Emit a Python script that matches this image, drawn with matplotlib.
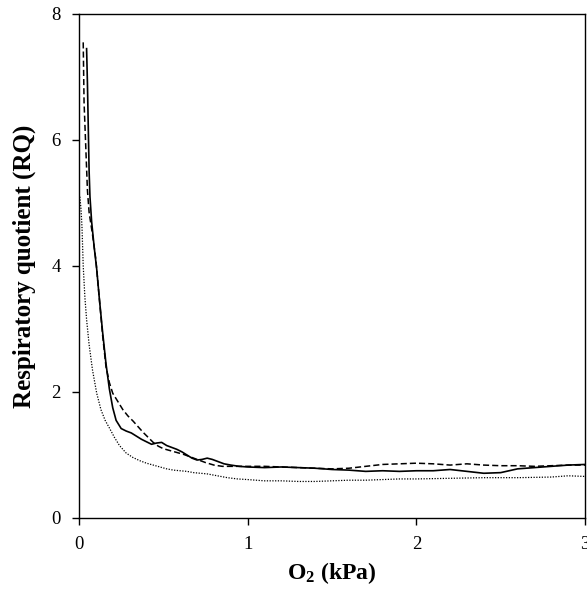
"""Respiratory quotient vs O2 partial pressure
"""

import matplotlib
matplotlib.use('Agg')
import matplotlib.pyplot as plt

plt.rcParams['font.family'] = ['Liberation Serif', 'DejaVu Serif']
plt.rcParams['mathtext.fontset'] = 'custom'
plt.rcParams['mathtext.rm'] = 'Liberation Serif'
plt.rcParams['mathtext.bf'] = 'Liberation Serif:bold'

# solid line
solid_x = [0.045, 0.05, 0.055, 0.06, 0.065, 0.075, 0.09, 0.105, 0.12, 0.14, 0.16, 0.18,
           0.20, 0.22, 0.25, 0.28, 0.31, 0.34, 0.37, 0.40, 0.43, 0.46, 0.49, 0.52, 0.55,
           0.58, 0.61, 0.64, 0.67, 0.70, 0.73, 0.76, 0.79, 0.82, 0.86, 0.90, 0.95, 1.0,
           1.1, 1.2, 1.3, 1.4, 1.5, 1.6, 1.7, 1.8, 1.9, 2.0, 2.1, 2.2, 2.3, 2.4, 2.5,
           2.6, 2.7, 2.8, 2.9, 3.0]
solid_y = [7.45, 6.9, 6.2, 5.5, 5.1, 4.7, 4.3, 3.95, 3.5, 2.95, 2.45, 2.05,
           1.75, 1.55, 1.42, 1.38, 1.35, 1.30, 1.25, 1.21, 1.17, 1.19, 1.20, 1.15, 1.12,
           1.09, 1.05, 1.00, 0.95, 0.92, 0.93, 0.95, 0.93, 0.90, 0.86, 0.84, 0.82, 0.81,
           0.80, 0.81, 0.80, 0.79, 0.77, 0.76, 0.74, 0.75, 0.74, 0.75, 0.75, 0.77, 0.74, 0.71, 0.72,
           0.78, 0.80, 0.82, 0.84, 0.85]

# dashed line
dash_x = [0.025, 0.03, 0.04, 0.05, 0.06, 0.08, 0.10, 0.12, 0.14, 0.16, 0.18, 0.20,
          0.23, 0.26, 0.29, 0.32, 0.35, 0.38, 0.41, 0.44, 0.47, 0.50, 0.54, 0.58, 0.62,
          0.66, 0.70, 0.75, 0.80, 0.85, 0.9, 1.0, 1.1, 1.2, 1.3, 1.4, 1.5, 1.6, 1.7,
          1.8, 1.9, 2.0, 2.1, 2.2, 2.3, 2.4, 2.5, 2.6, 2.7, 2.8, 2.9, 3.0]
dash_y = [7.55, 6.6, 5.9, 5.2, 4.85, 4.5, 4.1, 3.5, 2.9, 2.4, 2.15, 1.98,
          1.85, 1.72, 1.62, 1.54, 1.45, 1.36, 1.28, 1.20, 1.14, 1.10, 1.07, 1.04, 1.01,
          0.97, 0.93, 0.88, 0.84, 0.82, 0.82, 0.82, 0.82, 0.81, 0.80, 0.79, 0.78, 0.79, 0.82,
          0.85, 0.86, 0.87, 0.86, 0.84, 0.86, 0.84, 0.83, 0.83, 0.82, 0.83, 0.84, 0.84]

# dotted line
dot_x = [0.005, 0.012, 0.018, 0.025, 0.035, 0.045, 0.06, 0.08, 0.105, 0.13, 0.155, 0.18,
         0.21, 0.24, 0.28, 0.32, 0.36, 0.40, 0.44, 0.48, 0.52, 0.56, 0.60, 0.64, 0.68,
         0.72, 0.76, 0.80, 0.84, 0.88, 0.94, 1.0, 1.1, 1.2, 1.3, 1.4, 1.5, 1.6, 1.7,
         1.8, 1.9, 2.0, 2.2, 2.4, 2.6, 2.8, 2.9, 3.0]
dot_y = [5.1, 4.9, 4.6, 4.0, 3.5, 3.15, 2.75, 2.35, 1.98, 1.72, 1.55, 1.43,
         1.28, 1.15, 1.03, 0.96, 0.91, 0.87, 0.84, 0.81, 0.78, 0.76, 0.75, 0.74, 0.72,
         0.71, 0.70, 0.68, 0.66, 0.64, 0.62, 0.61, 0.59, 0.59, 0.58, 0.58, 0.59, 0.60, 0.60,
         0.61, 0.62, 0.62, 0.63, 0.64, 0.64, 0.65, 0.67, 0.66]

x_ticks = [0, 1, 2, 3]
y_ticks = [0, 2, 4, 6, 8]

fig = plt.figure(figsize=(5.87, 5.9), dpi=100)
ax = fig.add_axes([79 / 587, 72 / 590, 506 / 587, 504 / 590])

ax.plot(solid_x, solid_y, color='black', lw=1.2, ls='-')
ax.plot(dash_x, dash_y, color='black', lw=1.1, ls=(0, (4, 2)))
ax.plot(dot_x, dot_y, color='black', lw=0.9, ls=(0, (1, 1.2)))

ax.set_xlim(0, 3)
ax.set_ylim(0, 8)
ax.set_xticks(x_ticks)
ax.set_yticks(y_ticks)
ax.tick_params(direction='out', length=5, width=1, labelsize=13.5, pad=8)
for sp in ax.spines.values():
    sp.set_linewidth(1.0)

ax.set_xlabel(r'$\mathbf{O_2}$ (kPa)', fontsize=17, fontweight='bold', labelpad=5)
ax.set_ylabel('Respiratory quotient (RQ)', fontsize=18, fontweight='bold', labelpad=11)

fig.savefig('out.png', dpi=100)
